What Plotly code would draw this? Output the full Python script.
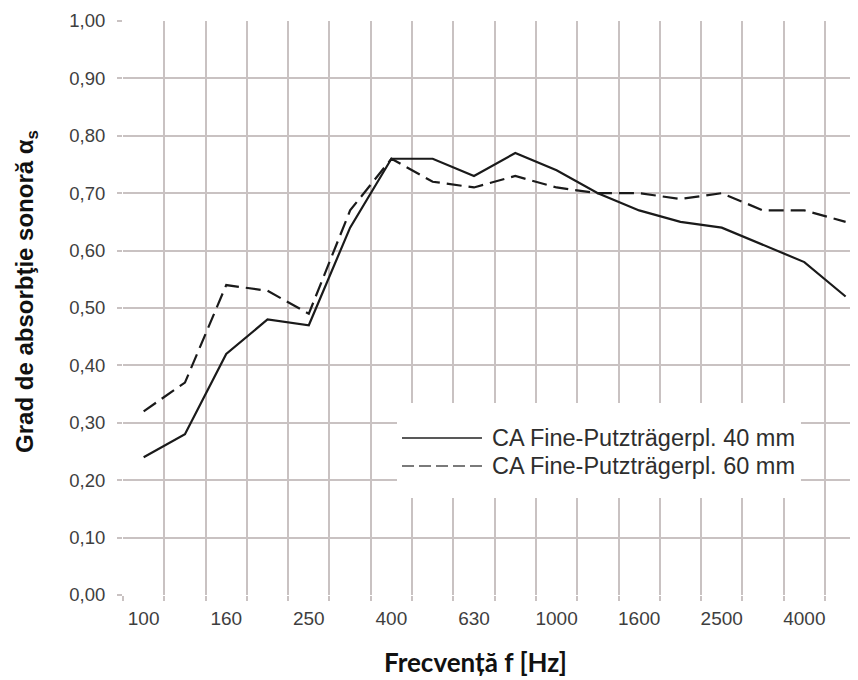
import plotly.graph_objects as go

freqs = ["100", "125", "160", "200", "250", "315", "400", "500", "630", "800",
         "1000", "1250", "1600", "2000", "2500", "3150", "4000", "5000"]
alpha_40 = [0.24, 0.28, 0.42, 0.48, 0.47, 0.64, 0.76, 0.76, 0.73, 0.77,
            0.74, 0.70, 0.67, 0.65, 0.64, 0.61, 0.58, 0.52]
alpha_60 = [0.32, 0.37, 0.54, 0.53, 0.49, 0.67, 0.76, 0.72, 0.71, 0.73,
            0.71, 0.70, 0.70, 0.69, 0.70, 0.67, 0.67, 0.65]
series_names = ["CA Fine-Putzträgerpl. 40 mm", "CA Fine-Putzträgerpl. 60 mm"]
y_ticks = [0.0, 0.1, 0.2, 0.3, 0.4, 0.5, 0.6, 0.7, 0.8, 0.9, 1.0]
y_ticktext = [f"{v:.2f}".replace(".", ",") for v in y_ticks]
x_title = "Frecvență f [Hz]"
y_title = "Grad de absorbţie sonoră α<sub>s</sub>"

xi = list(range(len(freqs)))
label_idx = xi[::2]
grid_color = "#c9c2c2"
line_color = "#1a1a1a"
font_main = "Liberation Sans, Arial"

fig = go.Figure()
fig.add_trace(go.Scatter(x=xi, y=alpha_40, mode="lines", name=series_names[0],
                         line=dict(color=line_color, width=2.2), showlegend=False))
fig.add_trace(go.Scatter(x=xi, y=alpha_60, mode="lines", name=series_names[1],
                         line=dict(color=line_color, width=2.2, dash="15px,7px"),
                         showlegend=False))

# legend box (custom, to match the reference look)
fig.add_shape(type="rect", xref="paper", yref="paper", x0=0.3728, x1=0.9224,
              y0=0.169, y1=0.3345, fillcolor="white", line=dict(width=0),
              layer="above")
fig.add_shape(type="line", xref="paper", yref="paper", x0=0.3796, x1=0.4884,
              y0=0.2735, y1=0.2735, line=dict(color="#222222", width=1.6),
              layer="above")
fig.add_shape(type="line", xref="paper", yref="paper", x0=0.3796, x1=0.4884,
              y0=0.2247, y1=0.2247, line=dict(color="#7a7a7a", width=2.2, dash="12px,5px"),
              layer="above")
for name, yy in zip(series_names, [0.2735, 0.2247]):
    fig.add_annotation(x=0.4993, y=yy, xref="paper", yref="paper", text=name,
                       showarrow=False, xanchor="left", yanchor="middle",
                       font=dict(family=font_main, size=23.5, color="#2e2e2e"))

# axis titles
fig.add_annotation(x=0.479, y=-0.1167, xref="paper", yref="paper", text=x_title,
                   showarrow=False, xanchor="center", yanchor="middle",
                   font=dict(family="Lato", size=26, color="#111111", weight="bold"))
fig.add_annotation(x=-0.1306, y=0.528, xref="paper", yref="paper", text=y_title,
                   showarrow=False, xanchor="center", yanchor="middle", textangle=-90,
                   font=dict(family=font_main, size=24, color="#111111", weight="bold"))

fig.update_layout(
    width=850, height=672,
    margin=dict(l=115, r=0, t=13, b=85),
    paper_bgcolor="white", plot_bgcolor="white",
    xaxis=dict(
        range=[-0.5, 17.3],
        tickvals=label_idx, ticktext=[freqs[i] for i in label_idx],
        showgrid=False, ticks="", zeroline=False,
        ticklabelstandoff=10,
        tickfont=dict(family=font_main, size=19, color="#3e3e3e"),
        minor=dict(tickvals=[i - 0.5 for i in range(len(freqs) + 1)], showgrid=True,
                   gridcolor=grid_color, gridwidth=1.6, ticks="outside", ticklen=5,
                   tickcolor=grid_color, tickwidth=1.6),
    ),
    yaxis=dict(
        range=[0, 1.0],
        tickvals=y_ticks, ticktext=y_ticktext,
        showgrid=True, gridcolor=grid_color, gridwidth=1.6, zeroline=False,
        ticks="outside", ticklen=5, tickcolor=grid_color, tickwidth=1.6,
        ticklabelstandoff=8,
        tickfont=dict(family=font_main, size=18.5, color="#3e3e3e"),
    ),
)

fig.write_html("out.html")
